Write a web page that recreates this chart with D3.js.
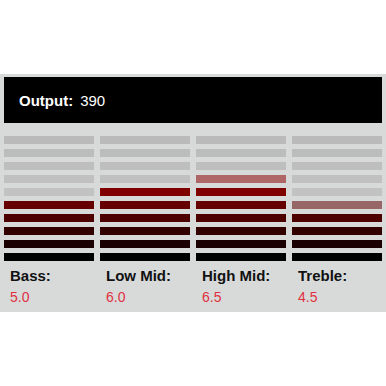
<!DOCTYPE html>
<html lang="en">
<head>
    <meta charset="UTF-8">
    <title>Equalizer</title>
    <script src="https://d3js.org/d3.v7.min.js"></script>
    <style>
        body { margin: 0; background: #fff; }
        svg { display: block; font-family: "Liberation Sans", Arial, sans-serif; }
    </style>
</head>
<body>
    <svg width="386" height="386"></svg>
    <script>
        var bands = ['Bass', 'Low Mid', 'High Mid', 'Treble'];
        var values = [5.0, 6.0, 6.5, 4.5];
        var output = 390;
        var levels = [1, 2, 3, 4, 5, 6, 7, 8, 9, 10];

        var svg = d3.select('svg');

        // panel
        svg.append('rect')
            .attr('x', 0).attr('y', 74)
            .attr('width', 386).attr('height', 238)
            .attr('fill', '#d8dada');

        // output header
        svg.append('rect')
            .attr('x', 4).attr('y', 77)
            .attr('width', 378).attr('height', 46)
            .attr('fill', '#000');
        var head = svg.append('text')
            .attr('x', 19).attr('y', 106)
            .attr('fill', '#fff')
            .style('font-size', '15px');
        head.append('tspan').style('font-weight', 'bold').text('Output:');
        head.append('tspan').attr('dx', 7).text(output);

        var x = d3.scaleBand().domain(bands).range([4, 382]).paddingInner(6 / 96);
        var y = d3.scaleBand().domain(levels.slice().reverse()).range([136, 261]).paddingInner(5 / 13);
        var lit = d3.scaleLinear().domain([1, 10]).range(['#000000', '#e60000']);
        var dim = d3.scaleLinear().domain([1, 10]).range(['#cbcbcb', '#bababa']);

        var cols = svg.selectAll('g.col').data(bands.map((b, i) => ({ band: b, value: values[i] })))
            .enter().append('g')
            .attr('class', 'col')
            .attr('transform', d => 'translate(' + x(d.band) + ',0)');

        // unlit cells
        cols.selectAll('rect.off').data(d => levels.map(l => ({ level: l, value: d.value })))
            .enter().append('rect')
            .attr('class', 'off')
            .attr('x', 0)
            .attr('y', d => y(d.level))
            .attr('width', x.bandwidth())
            .attr('height', y.bandwidth())
            .attr('fill', d => dim(d.level));

        // lit cells, half lit for the fractional part
        cols.selectAll('rect.on').data(d => levels.filter(l => l - 0.5 <= d.value).map(l => ({ level: l, value: d.value })))
            .enter().append('rect')
            .attr('class', 'on')
            .attr('x', 0)
            .attr('y', d => y(d.level))
            .attr('width', x.bandwidth())
            .attr('height', y.bandwidth())
            .attr('fill', d => lit(d.level))
            .attr('fill-opacity', d => d.level <= d.value ? 1 : 0.47);

        cols.append('text')
            .attr('x', 6).attr('y', 281)
            .style('font-size', '15px')
            .style('font-weight', 'bold')
            .attr('fill', '#111')
            .text(d => d.band + ':');

        cols.append('text')
            .attr('x', 6).attr('y', 302)
            .style('font-size', '14px')
            .attr('fill', '#e0303f')
            .text(d => d.value.toFixed(1));
    </script>
</body>
</html>
